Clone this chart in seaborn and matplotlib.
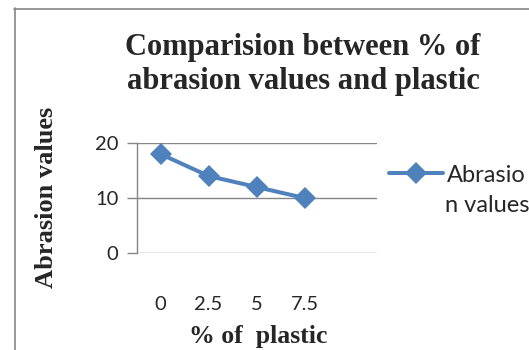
import matplotlib
matplotlib.use("Agg")
import matplotlib.pyplot as plt
import seaborn as sns
import pandas as pd
from matplotlib.lines import Line2D

# data
pct_plastic = ["0", "2.5", "5", "7.5"]
abrasion_values = [18, 14, 12, 10]
y_ticks = [0, 10, 20]

LINE_COLOR = "#4F81BD"
GRID_COLOR = "#868686"
SERIF = ["Liberation Serif", "DejaVu Serif"]
SANS = ["Lato", "DejaVu Sans"]


def plot_abrasion():
    sns.set_style("white")
    plt.rcParams["font.family"] = SANS

    df = pd.DataFrame({"pct": pct_plastic, "abrasion": abrasion_values})

    fig = plt.figure(figsize=(5.29, 3.5), dpi=100)
    ax = fig.add_axes([136.5 / 529, 97 / 350, 240 / 529, 110 / 350])

    sns.lineplot(data=df, x="pct", y="abrasion", ax=ax, color=LINE_COLOR,
                 linewidth=2.9, marker="D", markersize=11, markeredgewidth=0,
                 sort=False, legend=False)

    # Excel-style category axis: one empty slot on the right
    ax.set_xlim(-0.5, 4.5)
    ax.set_ylim(0, 20)
    ax.set_yticks(y_ticks)
    ax.yaxis.grid(True, color=GRID_COLOR, linewidth=1)
    ax.set_axisbelow(True)
    for side in ["top", "right", "bottom"]:
        ax.spines[side].set_visible(False)
    ax.spines["left"].set_color(GRID_COLOR)
    ax.spines["left"].set_linewidth(1)

    ax.tick_params(axis="y", length=7, width=1, color=GRID_COLOR, pad=6,
                   labelsize=14.5, direction="out", left=True)
    ax.tick_params(axis="x", length=0, pad=31, labelsize=14.5)
    ax.set_xlabel("")
    ax.set_ylabel("")

    fig.text(303 / 529, 1 - 47 / 350, "Comparision between % of",
             ha="center", va="center", fontsize=22, weight="bold", family=SERIF)
    fig.text(303 / 529, 1 - 81 / 350, "abrasion values and plastic",
             ha="center", va="center", fontsize=22, weight="bold", family=SERIF)
    fig.text(47 / 529, 1 - 197 / 350, "Abrasion values", rotation=90,
             ha="center", va="center", fontsize=19, weight="bold", family=SERIF)
    fig.text(258 / 529, 1 - 336 / 350, "% of  plastic",
             ha="center", va="center", fontsize=18.5, weight="bold", family=SERIF)

    # legend, clipped by the right edge as in the reference
    handle = Line2D([], [], color=LINE_COLOR, linewidth=2.9, marker="D",
                    markersize=11, markeredgewidth=0)
    fig.legend([handle], ["Abrasio"], loc="center left",
               bbox_to_anchor=(389 / 529, 1 - 175 / 350), frameon=False,
               fontsize=17, handlelength=2.3, handletextpad=0.15,
               borderaxespad=0, borderpad=0)
    fig.text(445 / 529, 1 - 205 / 350, "n values", ha="left", va="center",
             fontsize=17)

    # chart frame (left and top edges visible)
    fig.add_artist(Line2D([14.5 / 529, 14.5 / 529], [0, 1 - 8 / 350],
                          color=GRID_COLOR, linewidth=1.2))
    fig.add_artist(Line2D([14 / 529, 1], [1 - 8.5 / 350, 1 - 8.5 / 350],
                          color=GRID_COLOR, linewidth=1.2))

    fig.savefig("out.png", dpi=100)
    plt.close(fig)


if __name__ == "__main__":
    plot_abrasion()
